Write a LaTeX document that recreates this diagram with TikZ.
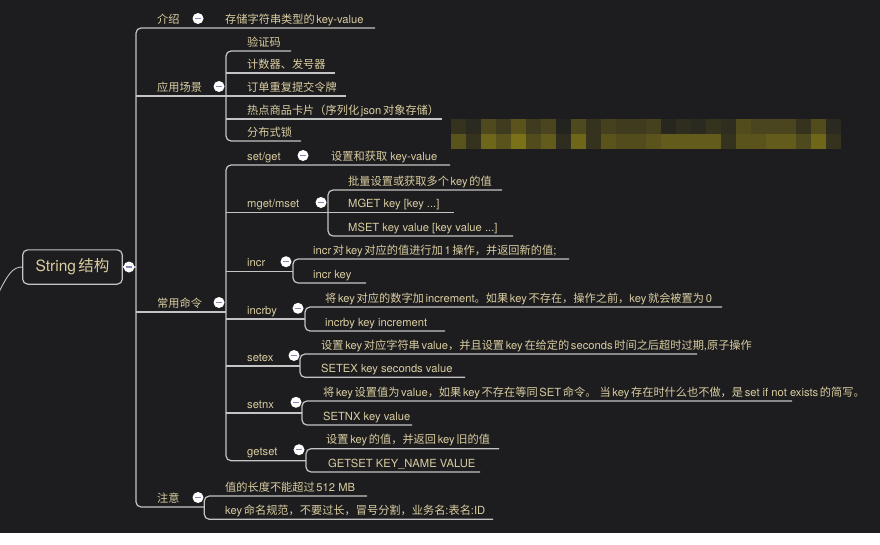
\documentclass[tikz,border=0pt]{standalone}
\usepackage{fontspec}
\setmainfont{TeX Gyre Heros}
\newfontfamily\latfont{TeX Gyre Heros}
\newfontfamily\cjkfont{Noto Sans CJK SC}
\XeTeXinterchartokenstate=1
\chardef\CJKcls=7
\chardef\PUNcls=8
\chardef\CPUcls=9
\count255="3000
\loop \XeTeXcharclass\count255=\CJKcls \ifnum\count255<"9FFF \advance\count255 by 1 \repeat
\count255="FF00
\loop \XeTeXcharclass\count255=\CJKcls \ifnum\count255<"FFEF \advance\count255 by 1 \repeat
% CJK punctuation
\count255="3000
\loop \XeTeXcharclass\count255=\CPUcls \ifnum\count255<"303F \advance\count255 by 1 \repeat
\XeTeXcharclass"FF0C=\CPUcls
\XeTeXcharclass"FF08=\CPUcls
\XeTeXcharclass"FF09=\CPUcls
\XeTeXcharclass"FF1A=\CPUcls
\XeTeXcharclass"FF1B=\CPUcls
% Latin punctuation
\XeTeXcharclass`\,=\PUNcls
\XeTeXcharclass`\.=\PUNcls
\XeTeXcharclass`\:=\PUNcls
\XeTeXcharclass`\;=\PUNcls
\XeTeXinterchartoks 0 \CJKcls = {\hskip0.15em\cjkfont}
\XeTeXinterchartoks 4095 \CJKcls = {\cjkfont}
\XeTeXinterchartoks \PUNcls \CJKcls = {\cjkfont}
\XeTeXinterchartoks \CJKcls 0 = {\latfont\hskip0.15em}
\XeTeXinterchartoks \CJKcls \PUNcls = {\latfont}
\XeTeXinterchartoks \CJKcls 4095 = {\latfont}
\XeTeXinterchartoks 0 \CPUcls = {\cjkfont}
\XeTeXinterchartoks 4095 \CPUcls = {\cjkfont}
\XeTeXinterchartoks \PUNcls \CPUcls = {\cjkfont}
\XeTeXinterchartoks \CPUcls 0 = {\latfont}
\XeTeXinterchartoks \CPUcls \PUNcls = {\latfont}
\XeTeXinterchartoks \CPUcls 4095 = {\latfont}
\definecolor{bgcol}{HTML}{1D1D20}
\definecolor{lncol}{HTML}{C4C4C4}
\definecolor{txtcol}{HTML}{DACDA0}
\definecolor{btnminus}{HTML}{8088B8}
\tikzset{
  ln/.style={draw=lncol, line width=1.2pt, rounded corners=5pt},
  lbl/.style={anchor=base west, inner sep=0pt, text=txtcol, font=\fontsize{11.2}{13}\selectfont},
  rootbox/.style={draw=lncol, line width=1.2pt, rounded corners=5pt, minimum width=99.6pt, minimum height=34.3pt, inner sep=0pt, text=txtcol, font=\fontsize{15.5}{17}\selectfont},
  btn/.style={circle, fill=white, minimum size=11pt, inner sep=0pt,
    path picture={\draw[btnminus, line width=1.3pt] ([xshift=-2.6pt]path picture bounding box.center) -- ([xshift=2.6pt]path picture bounding box.center);}},
}
% name, x, underline y, text
\newcommand\itm[4]{\node[lbl] (#1) at (#2,#3-5) {#4};}
\begin{document}
\begin{tikzpicture}[x=1pt,y=-1pt]
\useasboundingbox (0,0) rectangle (880,544);
\fill[bgcol] (0,0) rectangle (880,533);
\fill[white] (0,533) rectangle (880,544);

% pixelated (blurred) area
\foreach \i/\c in {0/35331E,1/2A2A20,2/4F4A1E,3/3F3B1E,4/5A541C,5/3F3B1E,6/4A451E,7/24241F,8/4F4A1E,9/35331E,10/45411E,11/3F3B1E,12/3F3B1E,13/45411E,14/28271F,15/2E2D1F,16/2A2A20,17/35331E,18/2E2D1F,19/524C1D,20/4A451E,21/4A451E,22/4A451E,23/35331E,24/524C1D,25/2A2A20}
  {\definecolor{pxc}{HTML}{\c}\fill[pxc] (451+15*\i,119) rectangle +(15,15);}
\foreach \i/\c in {0/5A541C,1/35331E,2/6E671A,3/5A541C,4/7A7119,5/524C1D,6/625B1B,7/2E2D1F,8/6E671A,9/35331E,10/5A541C,11/524C1D,12/524C1D,13/5A541C,14/625B1B,15/625B1B,16/625B1B,17/625B1B,18/35331E,19/5A541C,20/5A541C,21/625B1B,22/625B1B,23/4F4A1E,24/6E671A,25/35331E}
  {\definecolor{pxc}{HTML}{\c}\fill[pxc] (451+15*\i,134) rectangle +(15,15);}

% root
\node[rootbox] (root) at (72.5,267) {String结构};
\coordinate (rin) at (-1,292);
\draw[draw=lncol, line width=0.9pt] (rin) .. controls (8,274) and (13,267) .. (root.west);

% main vertical coordinates
\coordinate (v0t) at (136,28);
\coordinate (v0m) at (136,267);
\coordinate (v0b) at (136,507);

% level 1
\itm{L1}{157}{28}{介绍}
\itm{L1c}{225}{28}{存储字符串类型的key-value}
\coordinate (L1e) at (375,28);
\itm{L2}{157}{96}{应用场景}
\coordinate (L2s) at (136,96);
\itm{L3}{157}{312}{常用命令}
\coordinate (L3s) at (136,312);
\itm{L4}{157}{507}{注意}

% group A: 应用场景
\itm{A1}{247}{51}{验证码}
\itm{A2}{247}{73}{计数器、发号器}
\itm{A3}{247}{96}{订单重复提交令牌}
\itm{A4}{247}{119}{热点商品卡片（序列化json对象存储）}
\itm{A5}{247}{141}{分布式锁}
\coordinate (A1s) at (226,51);  \coordinate (A1e) at (291,51);
\coordinate (A2s) at (226,73);  \coordinate (A2e) at (335,73);
\coordinate (A3s) at (226,96);  \coordinate (A3e) at (346,96);
\coordinate (A4s) at (226,119); \coordinate (A4e) at (442,119);
\coordinate (A5s) at (226,141); \coordinate (A5e) at (301,141);

% group B: 常用命令
\itm{B1}{247}{165}{set/get}
\itm{B1c}{331}{165}{设置和获取 key-value}
\coordinate (B1s) at (226,165); \coordinate (B1e) at (450,165);
\itm{B2}{247}{212.7}{mget/mset}
\coordinate (B2s) at (226,212.7);
\itm{M1}{348}{190}{批量设置或获取多个key的值}
\itm{M2}{348}{212.7}{MGET key [key ...]}
\itm{M3}{348}{236}{MSET key value [key value ...]}
\coordinate (M1s) at (328,190);   \coordinate (M1e) at (502,190);
\coordinate (M2e) at (454,212.7);
\coordinate (M3s) at (328,236);   \coordinate (M3e) at (513,236);

\itm{B3}{247}{271.7}{incr}
\coordinate (B3s) at (226,271.7); \coordinate (B3j) at (293,271.7);
\itm{I1}{313}{259}{incr对key对应的值进行加1操作，并返回新的值;}
\itm{I2}{313}{283}{incr key}
\coordinate (I1s) at (293,259); \coordinate (I1e) at (569,259);
\coordinate (I2s) at (293,283); \coordinate (I2e) at (366,283);

\itm{B4}{247}{319}{incrby}
\coordinate (B4s) at (226,319); \coordinate (B4j) at (305,319);
\itm{Y1}{325}{307}{将key对应的数字加increment。如果key不存在，操作之前，key就会被置为0}
\itm{Y2}{325}{331}{incrby key increment}
\coordinate (Y1s) at (305,307); \coordinate (Y1e) at (722,307);
\coordinate (Y2s) at (305,331); \coordinate (Y2e) at (445,331);

\itm{B5}{247}{366}{setex}
\coordinate (B5s) at (226,366); \coordinate (B5j) at (300,366);
\itm{S1}{321}{354}{设置key对应字符串value，并且设置key在给定的seconds时间之后超时过期,原子操作}
\itm{S2}{321}{377.3}{SETEX key seconds value}
\coordinate (S1s) at (300,354);   \coordinate (S1e) at (697,354);
\coordinate (S2s) at (300,377.3); \coordinate (S2e) at (465,377.3);

\itm{B6}{247}{413}{setnx}
\coordinate (B6s) at (226,413); \coordinate (B6j) at (302,413);
\itm{X1}{323}{401}{将key设置值为value，如果key不存在等同SET命令。 当key存在时什么也不做，是set if not exists的简写。}
\itm{X2}{323}{425}{SETNX key value}
\coordinate (X1s) at (302,401); \coordinate (X1e) at (792,401);
\coordinate (X2s) at (302,425); \coordinate (X2e) at (412,425);

\itm{B7}{247}{460.7}{getset}
\coordinate (B7s) at (226,460.7); \coordinate (B7j) at (306,460.7);
\itm{G1}{326}{448.7}{设置key的值，并返回key旧的值}
\itm{G2}{328}{472}{GETSET KEY\_NAME VALUE}
\coordinate (G1s) at (306,448.7); \coordinate (G1e) at (499,448.7);
\coordinate (G2s) at (306,472);   \coordinate (G2e) at (480,472);

% group N: 注意
\itm{N1}{225}{496}{值的长度不能超过512 MB}
\itm{N2}{225}{519.3}{key命名规范，不要过长，冒号分割，业务名:表名:ID}
\coordinate (N1s) at (204.3,496);   \coordinate (N1e) at (367,496);
\coordinate (N2s) at (204.3,519.3); \coordinate (N2e) at (493,519.3);
\coordinate (L4j) at (204.3,507);

% ---- connectors ----
\draw[ln] (root.east) -- (v0m);
\draw[ln] (L1e) -- (v0t) -- (v0b) -- (L4j);
\draw[ln] (L2s) -- (A3e);
\draw[ln] (L3s) -- (A3s |- L3s);
% group A
\draw[ln] (A1e) -- (A1s) -- (A5s) -- (A5e);
\draw[ln] (A2s) -- (A2e);
\draw[ln] (A4s) -- (A4e);
% group B
\draw[ln] (B1e) -- (B1s) -- (B7s) -- (G1s |- B7s);
\draw[ln] (B2s) -- (M2e);
\draw[ln] (M1e) -- (M1s) -- (M3s) -- (M3e);
\draw[ln] (B3s) -- (B3j);
\draw[ln] (I1e) -- (I1s) -- (I2s) -- (I2e);
\draw[ln] (B4s) -- (B4j);
\draw[ln] (Y1e) -- (Y1s) -- (Y2s) -- (Y2e);
\draw[ln] (B5s) -- (B5j);
\draw[ln] (S1e) -- (S1s) -- (S2s) -- (S2e);
\draw[ln] (B6s) -- (B6j);
\draw[ln] (X1e) -- (X1s) -- (X2s) -- (X2e);
\draw[ln] (G1e) -- (G1s) -- (G2s) -- (G2e);
% group N
\draw[ln] (N1e) -- (N1s) -- (N2s) -- (N2e);

% collapse buttons
\node[btn] (rb) at (129,267) {};
\node[btn] (b1) at (198,18.5) {};
\node[btn] (b2) at (219,86.5) {};
\node[btn] (b3) at (219,302.5) {};
\node[btn] (b4) at (198,497.5) {};
\node[btn] (bB1) at (303,155.5) {};
\node[btn] (bB2) at (321,202.5) {};
\node[btn] (bB3) at (286,261.7) {};
\node[btn] (bB4) at (298,308.3) {};
\node[btn] (bB5) at (294,355.5) {};
\node[btn] (bB6) at (296,402.3) {};
\node[btn] (bB7) at (299,449.7) {};
\end{tikzpicture}
\end{document}
